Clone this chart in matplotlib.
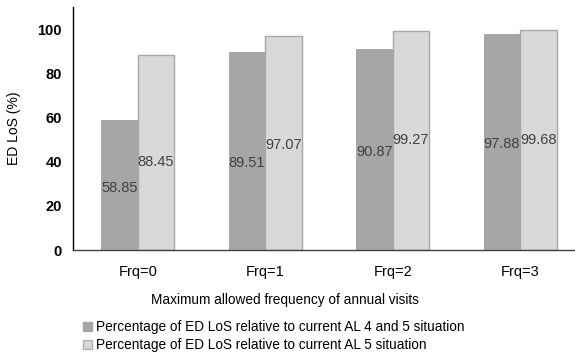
import numpy as np
import matplotlib
matplotlib.use( "Agg" )
import matplotlib.pyplot as plt
from matplotlib.patches import Patch

# ========================================================= #
# ===  data                                             === #
# ========================================================= #
categories = [ "Frq=0", "Frq=1", "Frq=2", "Frq=3" ]
al45_vals  = [ 58.85, 89.51, 90.87, 97.88 ]
al5_vals   = [ 88.45, 97.07, 99.27, 99.68 ]
series_names = [ "Percentage of ED LoS relative to current AL 4 and 5 situation",
                 "Percentage of ED LoS relative to current AL 5 situation" ]
yticks     = [ 0, 20, 40, 60, 80, 100 ]

plt.rcParams["font.family"] = [ "Liberation Sans", "DejaVu Sans" ]

# ------------------------------------------------- #
# --- [1] figure                                --- #
# ------------------------------------------------- #
W, H = 575, 359
fig = plt.figure( figsize=(W/100, H/100), dpi=100 )
ax  = fig.add_axes( [ 73/W, (H-250)/H, (575-73)/W, 243/H ] )

x     = np.arange( len(categories) )
width = 0.287
dark, light = "#a6a6a6", "#d9d9d9"

b1 = ax.bar( x - width/2, al45_vals, width, color=dark, edgecolor="#a0a0a0", linewidth=0.6 )
b2 = ax.bar( x + width/2, al5_vals,  width, color=light, edgecolor="#a8a8a8", linewidth=1.0 )

# ------------------------------------------------- #
# --- [2] data labels                           --- #
# ------------------------------------------------- #
lab_y1 = [ 0.48, 0.44, 0.49, 0.49 ]
lab_y2 = [ 0.45, 0.49, 0.50, 0.50 ]
for i in range( len(categories) ):
    ax.text( x[i]-width/2, al45_vals[i]*lab_y1[i], "{0:.2f}".format( al45_vals[i] ),
             ha="center", va="center", fontsize=10.5, color="#404040" )
    ax.text( x[i]+width/2, al5_vals[i]*lab_y2[i], "{0:.2f}".format( al5_vals[i] ),
             ha="center", va="center", fontsize=10.5, color="#404040" )

# ------------------------------------------------- #
# --- [3] axes                                  --- #
# ------------------------------------------------- #
ax.set_xlim( -0.508, 3.43 )
ax.set_ylim( 0, 110 )
ax.set_yticks( yticks )
ax.set_yticklabels( [ str(v) for v in yticks ], fontsize=10.5, fontweight="bold" )
ax.set_xticks( x )
ax.set_xticklabels( categories, fontsize=10.5 )
ax.tick_params( axis="y", length=0, pad=8 )
ax.tick_params( axis="x", length=0, pad=11 )
for s in [ "top", "right" ]:
    ax.spines[s].set_visible( False )
ax.spines["left"].set_color( "#000000" )
ax.spines["left"].set_linewidth( 1.0 )
ax.spines["bottom"].set_color( "#404040" )
ax.spines["bottom"].set_linewidth( 1.0 )
ax.set_ylabel( "ED LoS (%)", fontsize=10, labelpad=12 )

fig.text( 285/W, 1-300/H, "Maximum allowed frequency of annual visits",
          ha="center", va="center", fontsize=9.8 )

# ------------------------------------------------- #
# --- [4] legend                                --- #
# ------------------------------------------------- #
handles = [ Patch( facecolor=dark, edgecolor=dark ),
            Patch( facecolor=light, edgecolor="#b0b0b0" ) ]
fig.legend( handles, series_names, loc="upper left", bbox_to_anchor=(83/W, 1-320/H),
            frameon=False, fontsize=9.8, handlelength=0.65, handleheight=0.65,
            handletextpad=0.3, labelspacing=0.3, borderpad=0, borderaxespad=0 )

fig.savefig( "out.png", dpi=100 )
